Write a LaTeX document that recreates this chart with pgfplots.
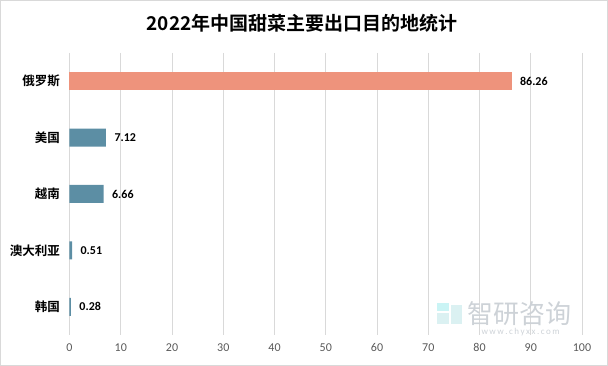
\documentclass[border=0pt]{standalone}
\usepackage{pgfplots}
\pgfplotsset{compat=1.18}
\usepackage{fontspec}
\setmainfont{Carlito}
\newfontfamily\cjk{Noto Sans CJK SC}
\newfontfamily\cjkb{Noto Sans CJK SC Bold}
\definecolor{salmon}{RGB}{238,147,124}
\definecolor{steel}{RGB}{92,142,164}
\definecolor{tickgray}{RGB}{89,89,89}
\definecolor{gridgray}{RGB}{217,217,217}
\definecolor{wm}{RGB}{205,210,215}
\begin{document}
\begin{tikzpicture}[x=1pt,y=1pt]
\useasboundingbox (0,0) rectangle (608,366);
\draw[color=gridgray,line width=1pt] (0.5,0.5) rectangle (607.5,365.5);
\node[font=\cjkb\fontsize{19}{20}\selectfont] at (302,343) {2022年中国甜菜主要出口目的地统计};
\begin{axis}[
  at={(69.5pt,31pt)}, anchor=south west,
  scale only axis, width=512.5pt, height=282pt,
  xmin=0, xmax=100, ymin=-0.5, ymax=4.5,
  y dir=reverse,
  xtick={0,10,...,100},
  ytick={0,1,2,3,4},
  yticklabels={俄罗斯,美国,越南,澳大利亚,韩国},
  yticklabel style={font=\cjkb\fontsize{12.5}{14}\selectfont, text=black, xshift=-6pt},
  xticklabel style={font=\fontsize{12}{14}\selectfont, text=tickgray, yshift=-5pt},
  /pgf/number format/assume math mode=true,
  xmajorgrids, major grid style={gridgray, line width=0.8pt},
  axis line style={draw=none},
  major tick length=0pt,
  xbar, bar width=18pt, bar shift=0pt,
  nodes near coords,
  nodes near coords align={horizontal},
  every node near coord/.append style={font=\bfseries\fontsize{12}{14}\selectfont, text=black, anchor=west, xshift=5pt},
  point meta=explicit symbolic,
  clip=false,
]
\addplot[fill=salmon, draw=none] coordinates {(86.26,0) [86.26]};
\addplot[fill=steel, draw=none] coordinates {(7.12,1) [7.12] (6.66,2) [6.66] (0.51,3) [0.51] (0.28,4) [0.28]};
\end{axis}
\fill[color=wm!80!cyan!40] (437,42) rectangle (449,53);
\fill[color=wm!80!cyan!40] (451,42) rectangle (462,61);
\fill[color=wm!60!cyan!40] (437,55) rectangle (449,63);
\node[font=\cjk\fontsize{26}{28}\selectfont, text=wm, anchor=west] at (464,52) {智研咨询};
\node[font=\fontsize{9}{10}\selectfont, text=wm, anchor=west] at (478,34) {w\,w\,w\,.\,c\,h\,y\,x\,x\,.\,c\,o\,m};
\end{tikzpicture}
\end{document}
